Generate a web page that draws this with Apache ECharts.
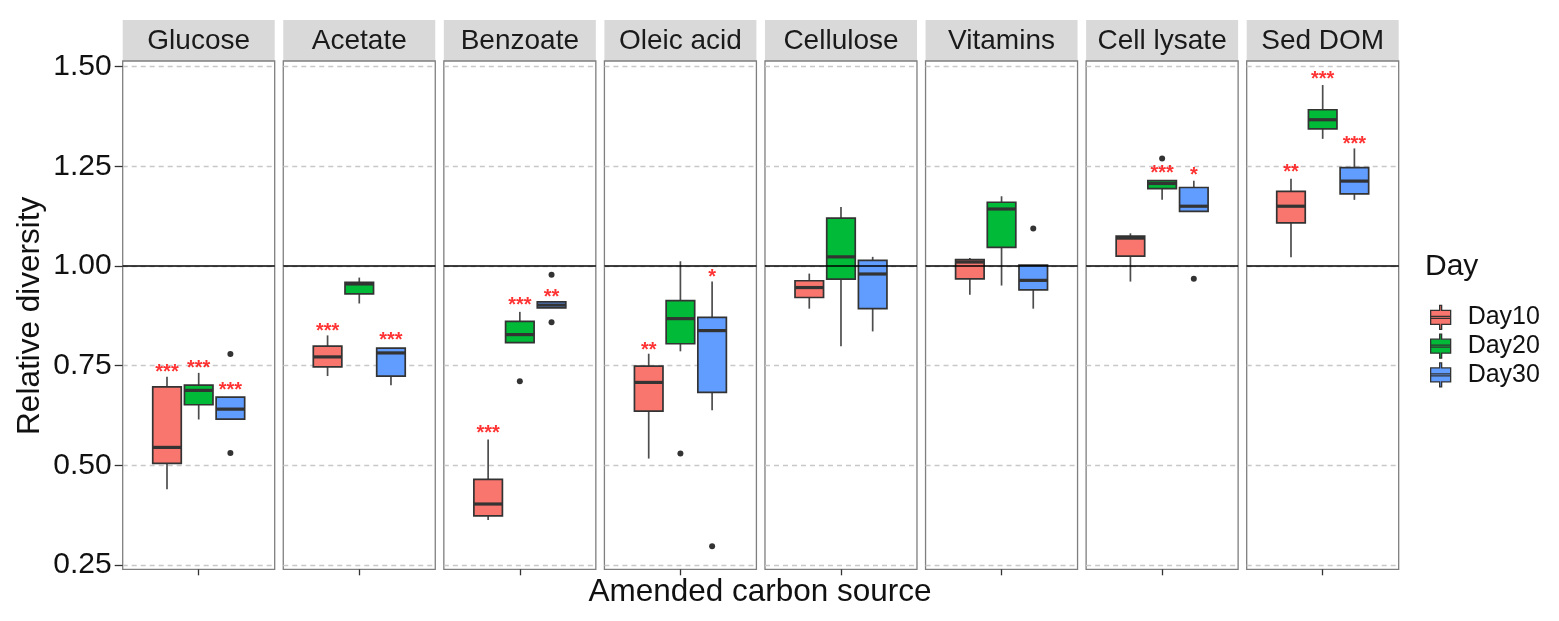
<!DOCTYPE html>
<html>
<head>
<meta charset="utf-8">
<script src="https://cdn.jsdelivr.net/npm/echarts@6/dist/echarts.min.js"></script>
<style>
  html, body { margin: 0; padding: 0; background: #fff; }
  #chart { width: 1559px; height: 621px; }
</style>
</head>
<body>
<div id="chart"></div>
<script>
const sources = ['Glucose', 'Acetate', 'Benzoate', 'Oleic acid', 'Cellulose', 'Vitamins', 'Cell lysate', 'Sed DOM']
const days = ['Day10', 'Day20', 'Day30']
const yTicks = [0.25, 0.5, 0.75, 1.0, 1.25, 1.5]

// [low, q1, median, q3, high] for each carbon source
const day10 = [
  [0.440, 0.505, 0.545, 0.697, 0.722],
  [0.724, 0.747, 0.772, 0.799, 0.826],
  [0.363, 0.373, 0.403, 0.465, 0.565],
  [0.517, 0.636, 0.708, 0.749, 0.780],
  [0.893, 0.921, 0.946, 0.963, 0.981],
  [0.928, 0.968, 1.010, 1.016, 1.020],
  [0.961, 1.025, 1.070, 1.075, 1.082],
  [1.022, 1.108, 1.150, 1.187, 1.219]
]
const day20 = [
  [0.615, 0.652, 0.688, 0.701, 0.732],
  [0.906, 0.930, 0.955, 0.959, 0.971],
  [0.808, 0.808, 0.828, 0.861, 0.885],
  [0.786, 0.805, 0.868, 0.913, 1.012],
  [0.799, 0.967, 1.023, 1.120, 1.148],
  [0.951, 1.047, 1.143, 1.160, 1.175],
  [1.166, 1.194, 1.207, 1.214, 1.214],
  [1.319, 1.344, 1.367, 1.392, 1.454]
]
const day30 = [
  [0.616, 0.616, 0.641, 0.671, 0.671],
  [0.701, 0.724, 0.782, 0.794, 0.794],
  [0.895, 0.895, 0.902, 0.910, 0.910],
  [0.638, 0.683, 0.838, 0.871, 0.961],
  [0.836, 0.893, 0.980, 1.014, 1.023],
  [0.893, 0.940, 0.964, 1.002, 1.002],
  [1.137, 1.137, 1.150, 1.197, 1.214],
  [1.166, 1.181, 1.213, 1.247, 1.295]
]

// [source index, day index, value]
const outliers = [
  [0, 2, 0.779], [0, 2, 0.531],
  [2, 1, 0.711], [2, 2, 0.978], [2, 2, 0.859],
  [3, 1, 0.530], [3, 2, 0.297],
  [5, 2, 1.094],
  [6, 1, 1.270], [6, 2, 0.968]
]

// [source index, day index, label, y]
const stars = [
  [0, 0, '***', 0.743], [0, 1, '***', 0.753], [0, 2, '***', 0.698],
  [1, 0, '***', 0.845], [1, 2, '***', 0.824],
  [2, 0, '***', 0.590], [2, 1, '***', 0.910], [2, 2, '**', 0.932],
  [3, 0, '**', 0.799], [3, 2, '*', 0.981],
  [6, 1, '***', 1.241], [6, 2, '*', 1.237],
  [7, 0, '**', 1.245], [7, 1, '***', 1.477], [7, 2, '***', 1.315]
]

const dayStats = [day10, day20, day30]
const dayColors = ['#F8766D', '#00BA38', '#619CFF']
const font = 'Liberation Sans, Arial, sans-serif'

// panel layout
const panelLeft = 122.7
const panelStep = 160.57
const panelWidth = 152
const boxGridWidth = 95.1
const yTop = 66.7
const yHeight = 498.3

function renderBox(params, api) {
  const x = api.value(0)
  const low = api.coord([x, api.value(1)])
  const q1 = api.coord([x, api.value(2)])
  const med = api.coord([x, api.value(3)])
  const q3 = api.coord([x, api.value(4)])
  const high = api.coord([x, api.value(5)])
  const w = api.size([1, 0])[0] * 0.9
  const cx = med[0]
  const stroke = '#333'
  return {
    type: 'group',
    children: [
      { type: 'line', shape: { x1: cx, y1: high[1], x2: cx, y2: q3[1] }, style: { stroke: '#4d4d4d', lineWidth: 1.7 } },
      { type: 'line', shape: { x1: cx, y1: q1[1], x2: cx, y2: low[1] }, style: { stroke: '#4d4d4d', lineWidth: 1.7 } },
      { type: 'rect', shape: { x: cx - w / 2, y: q3[1], width: w, height: q1[1] - q3[1] },
        style: { fill: api.visual('color'), stroke: stroke, lineWidth: 1.7 } },
      { type: 'line', shape: { x1: cx - w / 2, y1: med[1], x2: cx + w / 2, y2: med[1] }, style: { stroke: stroke, lineWidth: 3.2 } }
    ]
  }
}

const grid = [], xAxis = [], yAxis = [], series = []

sources.forEach((src, i) => {
  const left = panelLeft + i * panelStep
  const center = left + panelWidth / 2
  const g = grid.length

  // strip
  grid.push({ left: left, top: 20, width: panelWidth, height: 41, show: true, backgroundColor: '#d9d9d9', borderWidth: 0 })
  // frame
  grid.push({ left: left, top: 61, width: panelWidth, height: 508.3, show: true, borderColor: '#7f7f7f', borderWidth: 1.3 })
  // grid lines / y axis
  grid.push({ left: left, top: yTop, width: panelWidth, height: yHeight })
  // boxes
  grid.push({ left: center - boxGridWidth / 2, top: yTop, width: boxGridWidth, height: yHeight })

  xAxis.push({
    gridIndex: g, type: 'category', data: [src], position: 'bottom',
    axisLine: { show: false }, axisTick: { show: false },
    axisLabel: { inside: true, margin: 20, verticalAlign: 'middle', fontSize: 28, color: '#1a1a1a', fontFamily: font }
  })
  yAxis.push({ gridIndex: g, type: 'value', show: false })

  xAxis.push({
    gridIndex: g + 1, type: 'category', data: [src],
    axisLine: { show: false }, axisLabel: { show: false },
    axisTick: { show: true, alignWithLabel: true, length: 6, lineStyle: { color: '#333', width: 1.3 } }
  })
  yAxis.push({ gridIndex: g + 1, type: 'value', show: false })

  xAxis.push({ gridIndex: g + 2, type: 'category', data: [src], show: false })
  yAxis.push({
    gridIndex: g + 2, type: 'value',
    min: yTicks[0], max: yTicks[yTicks.length - 1], interval: yTicks[1] - yTicks[0],
    axisLine: { show: false },
    axisTick: { show: i === 0, length: 8, lineStyle: { color: '#333', width: 1.3 } },
    axisLabel: { show: i === 0, margin: 11, fontSize: 30, color: '#111', fontFamily: font, formatter: v => v.toFixed(2) },
    splitLine: { show: true, lineStyle: { color: '#c8c8c8', width: 1.3, type: [5, 4] } },
    name: i === 0 ? 'Relative diversity' : '',
    nameLocation: 'middle', nameGap: 76,
    nameTextStyle: { fontSize: 31.5, color: '#111', fontFamily: font }
  })

  xAxis.push({ gridIndex: g + 3, type: 'category', data: days, show: false })
  yAxis.push({ gridIndex: g + 3, type: 'value', min: yTicks[0], max: yTicks[yTicks.length - 1], show: false })

  const axisIdx = xAxis.length - 1

  // reference line at 1.0
  series.push({
    type: 'line', xAxisIndex: axisIdx - 1, yAxisIndex: axisIdx - 1, data: [],
    markLine: {
      silent: true, symbol: 'none', label: { show: false },
      lineStyle: { color: '#000', width: 1.6, type: 'solid' },
      data: [{ yAxis: 1 }]
    }
  })

  days.forEach((d, k) => {
    series.push({
      name: d, type: 'custom', xAxisIndex: axisIdx, yAxisIndex: axisIdx,
      color: dayColors[k],
      renderItem: renderBox,
      encode: { x: 0, y: [1, 2, 3, 4, 5] },
      data: [[k].concat(dayStats[k][i])],
      z: 3
    })
  })

  series.push({
    type: 'scatter', xAxisIndex: axisIdx, yAxisIndex: axisIdx,
    symbolSize: 6, itemStyle: { color: '#000' }, z: 4,
    data: outliers.filter(o => o[0] === i).map(o => [o[1], o[2]])
  })

  series.push({
    type: 'scatter', xAxisIndex: axisIdx, yAxisIndex: axisIdx,
    symbolSize: 1, itemStyle: { color: 'rgba(0,0,0,0)' }, z: 5,
    label: {
      show: true, position: 'inside', offset: [0, 4],
      formatter: p => p.data.text,
      color: '#f00', fontSize: 20, fontWeight: 'bold', fontFamily: font
    },
    data: stars.filter(s => s[0] === i).map(s => ({ value: [s[1], s[3]], text: s[2] }))
  })
})

const boxIcon = 'path://M11,0H13V5H22V19H13V24H11V19H2V5H11Z M2,11H22V13H2Z'

const option = {
  animation: false,
  backgroundColor: '#fff',
  grid: grid,
  xAxis: xAxis,
  yAxis: yAxis,
  series: series,
  legend: {
    orient: 'vertical', left: 1425, top: 299.7,
    itemWidth: 24, itemHeight: 24, itemGap: 3.5,
    textStyle: { fontSize: 25, color: '#111', fontFamily: font, padding: [0, 0, 0, 10] },
    data: days.map((d, k) => ({
      name: d, icon: boxIcon,
      itemStyle: { color: dayColors[k], borderColor: '#333', borderWidth: 1.3 }
    }))
  },
  graphic: [
    { type: 'text', x: 760, y: 592, style: { text: 'Amended carbon source', fontSize: 31.5, fontFamily: font, fill: '#111', align: 'center', verticalAlign: 'middle' } },
    { type: 'text', x: 1425, y: 267, style: { text: 'Day', fontSize: 30, fontFamily: font, fill: '#111', align: 'left', verticalAlign: 'middle' } }
  ]
}

const chart = echarts.init(document.getElementById('chart'))
chart.setOption(option)
</script>
</body>
</html>
